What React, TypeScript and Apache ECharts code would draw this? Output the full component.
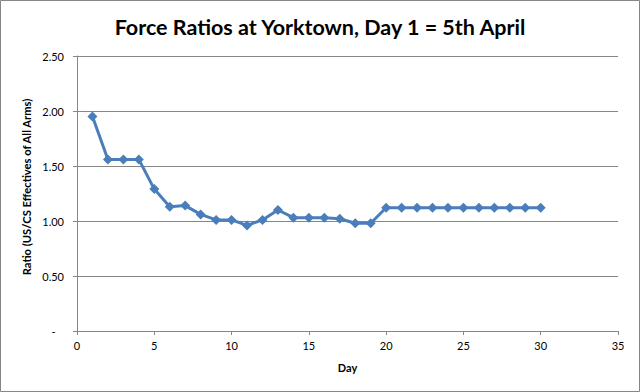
import React, { useEffect, useRef } from "react";
import * as echarts from "echarts";

const titleText = "Force Ratios at Yorktown, Day 1 = 5th April";
const xAxisName = "Day";
const yAxisName = "Ratio (US/CS Effectives of All Arms)";
const days = [1, 2, 3, 4, 5, 6, 7, 8, 9, 10, 11, 12, 13, 14, 15, 16, 17, 18, 19, 20, 21, 22, 23, 24, 25, 26, 27, 28, 29, 30];
const ratios = [1.95, 1.56, 1.56, 1.56, 1.29, 1.13, 1.14, 1.06, 1.01, 1.01, 0.96, 1.01, 1.1, 1.03, 1.03, 1.03, 1.02, 0.98, 0.98, 1.12, 1.12, 1.12, 1.12, 1.12, 1.12, 1.12, 1.12, 1.12, 1.12, 1.12];

const FONT = "Lato, 'Open Sans', sans-serif";
const GRAY = "#868686";
const BLUE = "#4a7ebb";

export default function App() {
  const ref = useRef<HTMLDivElement>(null);
  useEffect(() => {
    if (!ref.current) return;
    const chart = echarts.init(ref.current, null, { renderer: "svg" });
    chart.setOption({
      animation: false,
      backgroundColor: "#ffffff",
      title: {
        text: titleText,
        left: "center",
        top: 11,
        textStyle: { fontFamily: FONT, fontSize: 21.5, fontWeight: "bold", color: "#000" },
      },
      graphic: [
        {
          type: "rect",
          shape: { x: 0.5, y: 0.5, width: 639, height: 391 },
          style: { fill: "none", stroke: GRAY, lineWidth: 1 },
          silent: true,
        },
        {
          type: "text",
          x: 26,
          y: 187,
          rotation: Math.PI / 2,
          style: {
            text: yAxisName,
            fontFamily: FONT,
            fontSize: 11.2,
            fontWeight: "bold",
            fill: "#000",
            align: "center",
            verticalAlign: "middle",
          },
          silent: true,
        },
      ],
      grid: { left: 77, right: 22, top: 56, bottom: 61 },
      xAxis: {
        type: "value",
        min: 0,
        max: 35,
        interval: 5,
        name: xAxisName,
        nameLocation: "middle",
        nameGap: 31,
        nameTextStyle: { fontFamily: FONT, fontSize: 11, fontWeight: "bold", color: "#000" },
        axisLine: { show: true, lineStyle: { color: GRAY, width: 1 } },
        axisTick: { show: true, length: 4, lineStyle: { color: GRAY } },
        axisLabel: { fontFamily: FONT, fontSize: 11, color: "#000", margin: 9 },
        splitLine: { show: false },
      },
      yAxis: {
        type: "value",
        min: 0,
        max: 2.5,
        interval: 0.5,
        axisLine: { show: true, lineStyle: { color: GRAY, width: 1 } },
        axisTick: { show: true, length: 4, lineStyle: { color: GRAY } },
        axisLabel: {
          fontFamily: FONT,
          fontSize: 11,
          color: "#000",
          margin: 13,
          formatter: (v: number) => (v === 0 ? "-   " : v.toFixed(2)),
        },
        splitLine: { show: true, lineStyle: { color: GRAY, width: 1 } },
      },
      series: [
        {
          type: "line",
          data: days.map((d, i) => [d, ratios[i]]),
          symbol: "diamond",
          symbolSize: 10,
          showAllSymbol: true,
          lineStyle: { color: BLUE, width: 3 },
          itemStyle: { color: BLUE },
        },
      ],
    });
    return () => chart.dispose();
  }, []);
  return (
    <div
      ref={ref}
      style={{ position: "fixed", left: 0, top: 0, width: 640, height: 392 }}
    />
  );
}
